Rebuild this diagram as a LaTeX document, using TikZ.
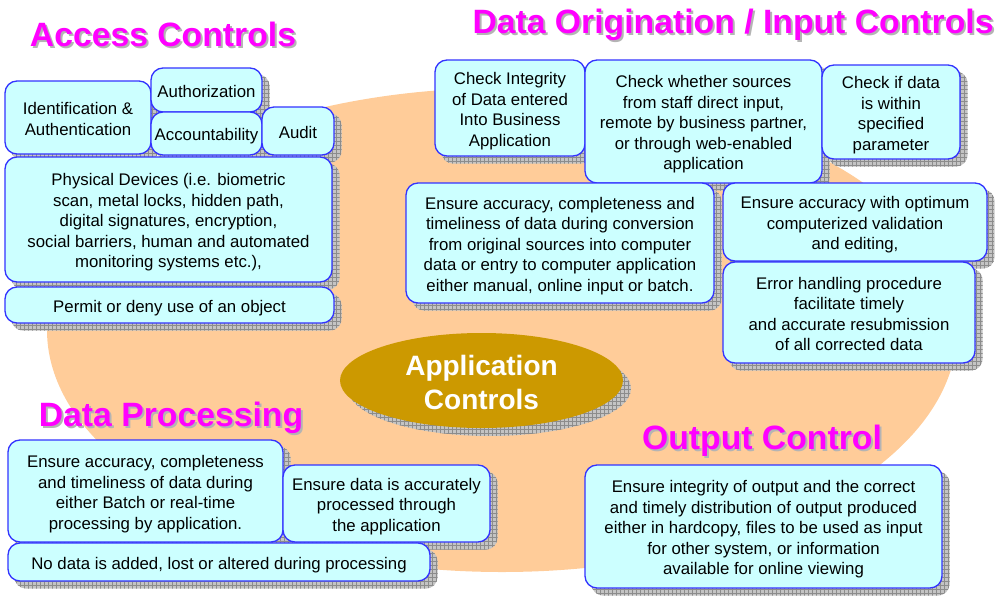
\documentclass[tikz,border=0pt]{standalone}
\usepackage{fontspec}
\setmainfont{Liberation Sans}
\usetikzlibrary{patterns,shapes.geometric}

\definecolor{peach}{HTML}{FFCC99}
\definecolor{boxfill}{HTML}{CCFFFF}
\definecolor{boxline}{HTML}{3333FF}
\definecolor{gold}{HTML}{CC9900}
\definecolor{shadefill}{HTML}{C4C4C4}
\definecolor{shadegrid}{HTML}{8C8C8C}
\definecolor{titlepink}{HTML}{FF00FF}
\definecolor{titleshade}{HTML}{B4B4B4}

\pgfdeclarelayer{backdrop}
\pgfdeclarelayer{shades}
\pgfsetlayers{backdrop,shades,main}

\tikzset{
  box/.style={draw=boxline, line width=1pt, fill=boxfill, rounded corners=9pt,
    inner sep=0pt, align=center, font=\fontsize{12.6}{15.4}\selectfont},
  heading/.style={text=titlepink, inner sep=0pt, font=\fontsize{25.3}{30}\selectfont\bfseries},
  headshade/.style={text=titleshade, inner sep=0pt, font=\fontsize{25.3}{30}\selectfont\bfseries},
  dropshade/.style={preaction={fill=shadefill}, pattern=grid, pattern color=shadegrid},
}

% invisible struts: fixed height for the first line, fixed depth for the last
\newcommand\toprule[1]{\vrule width 0pt height #1 depth 0pt\relax}
\newcommand\botrule[1]{\vrule width 0pt height 0pt depth #1\relax}

% \panel{name}{left}{top}{right}{bottom}{text}, corners in pixel units
\newcommand\panel[6]{%
  \node[box, minimum width={(#4-#2)*0.75pt}, minimum height={(#5-#3)*0.75pt}]
    (#1) at ({(#2+#4)/2},{(#3+#5)/2}) {\toprule{13.7pt}#6\botrule{2.7pt}};}

\begin{document}
\begin{tikzpicture}[x=0.75pt,y=-0.75pt]
\useasboundingbox (0,0) rectangle (995,597);

% ---- Access controls
\panel{idauth}{5}{81}{151}{154}{Identification \&\\Authentication}
\panel{authz}{151}{68}{262}{112}{Authorization}
\panel{acct}{151}{112}{262}{155}{Accountability}
\panel{audit}{262}{107}{334}{155}{Audit}
\panel{phys}{5}{157}{332}{282}{Physical Devices (i.e. biometric\\scan, metal locks, hidden path,\\digital signatures, encryption,\\social barriers, human and automated\\monitoring systems etc.),}
\panel{permit}{5}{287}{334}{323}{Permit or deny use of an object}

% ---- Data origination / input controls
\panel{integ}{435}{60}{585}{156}{Check Integrity\\of Data entered\\Into Business\\Application}
\panel{sources}{585}{60}{822}{183}{Check whether sources\\from staff direct input,\\remote by business partner,\\or through web-enabled\\application}
\panel{within}{822}{65}{960}{159}{Check if data\\is within\\specified\\parameter}
\panel{convert}{406}{183}{714}{303}{Ensure accuracy, completeness and\\timeliness of data during conversion\\from original sources into computer\\data or entry to computer application\\either manual, online input or batch.}
\panel{valid}{723}{183}{987}{261}{Ensure accuracy with optimum\\computerized validation\\and editing,}
\panel{errh}{723}{262}{975}{363}{Error handling procedure\\facilitate timely\\and accurate resubmission\\of all corrected data}

% ---- Data processing
\panel{batch}{8}{440}{283}{542}{Ensure accuracy, completeness\\and timeliness of data during\\either Batch or real-time\\processing by application.}
\panel{through}{283}{465}{490}{542}{Ensure data is accurately\\processed through\\the application}
\panel{nodata}{8}{543}{430}{581}{No data is added, lost or altered during processing}

% ---- Output control
\panel{output}{585}{465}{942}{588}{Ensure integrity of output and the correct\\and timely distribution of output produced\\either in hardcopy, files to be used as input\\for other system, or information\\available for online viewing}

% ---- Centre
\node[ellipse, fill=gold, inner sep=0pt, minimum width=212.25pt, minimum height=71.25pt,
      text=white, align=center, font=\fontsize{21}{25}\selectfont\bfseries]
      (core) at (481.5,380.5) {\toprule{18.3pt}Application\\Controls};

% ---- Headings with their soft shade
\node[headshade] (accshade) at (165,36) {Access Controls};
\node[heading]   (acchead)  at (163,34) {Access Controls};
\node[headshade] (inshade)  at (735,27) {Data Origination / Input Controls};
\node[heading]   (inhead)   at (733,25) {Data Origination / Input Controls};
\node[headshade] (prshade)  at (173,420) {Data Processing};
\node[heading]   (prhead)   at (171,418) {Data Processing};
\node[headshade] (outshade) at (764,443) {Output Control};
\node[heading]   (outhead)  at (762,441) {Output Control};

% ---- Background layers: large ellipse and drop shades
\begin{pgfonlayer}{backdrop}
  \fill[peach] (502,330) ellipse [x radius=341.25pt, y radius=181.5pt];
\end{pgfonlayer}
\begin{pgfonlayer}{shades}
  \foreach \n in {idauth,authz,acct,audit,phys,permit,integ,sources,within,
                  convert,valid,errh,batch,through,nodata,output}{
    \path[dropshade, rounded corners=9pt]
      ([shift={(7,7)}]\n.north west) rectangle ([shift={(7,7)}]\n.south east);
  }
  \path[dropshade] ([shift={(8,8)}]core.center) ellipse [x radius=106.1pt, y radius=35.6pt];
\end{pgfonlayer}
\end{tikzpicture}
\end{document}
